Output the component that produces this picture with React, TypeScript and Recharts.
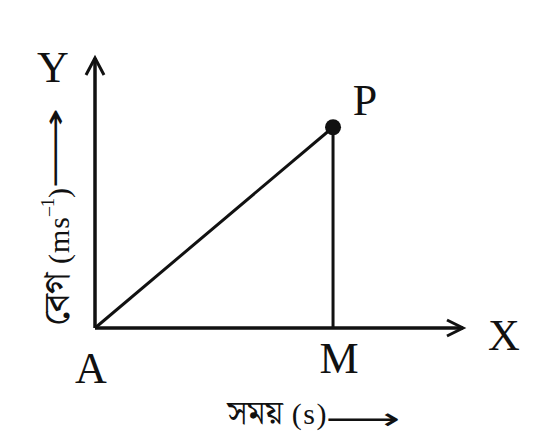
import React from 'react';
import { LineChart, Line, XAxis, YAxis, ReferenceLine, ReferenceDot } from 'recharts';

// velocity-time graph: A (origin) -> P, foot of perpendicular M
const pointNames = ['A', 'P'];
const timeValues = [0, 5];
const velocityValues = [0, 20];
const timeMax = 7.73;
const velocityMax = 26.9;
const footName = 'M';
const xAxisName = 'X';
const yAxisName = 'Y';
const xTitleWord = 'সময়';
const xTitleUnit = ' (s)';
const yTitleWord = 'বেগ';
const yTitleUnit = ' (ms';
const yTitleSup = '–1';
const titleArrow = '⟶';

const data = timeValues.map((t, i) => ({ name: pointNames[i], t, v: velocityValues[i] }));

const SERIF = "'Liberation Serif', 'Times New Roman', serif";
const BENGALI = "'Noto Serif Bengali', 'FreeSerif', 'Lohit Bengali', 'Noto Sans Bengali', serif";
const INK = '#111';

const ArrowUp = ({ cx, cy }: any) => (
  <polyline
    points={`${cx - 9},${cy + 17} ${cx},${cy} ${cx + 9},${cy + 17}`}
    fill="none"
    stroke={INK}
    strokeWidth={3}
  />
);

const ArrowRight = ({ cx, cy }: any) => (
  <polyline
    points={`${cx - 16},${cy - 8} ${cx},${cy} ${cx - 16},${cy + 8}`}
    fill="none"
    stroke={INK}
    strokeWidth={3}
  />
);

// letter placed relative to the centre of the dot it belongs to
const letter = (text: string, dx: number, dy: number, size = 44) => (props: any) => {
  const vb = props.viewBox || {};
  const cx = vb.x + (vb.width || 0) / 2;
  const cy = vb.y + (vb.height || 0) / 2;
  return (
    <text x={cx + dx} y={cy + dy} textAnchor="middle" fontFamily={SERIF} fontSize={size} fill={INK}>
      {text}
    </text>
  );
};

const XTitle = (props: any) => {
  const vb = props.viewBox || {};
  const x = vb.x + 233;
  const y = vb.y + 96;
  return (
    <g fill={INK}>
      <text x={x} y={y} textAnchor="end" fontSize={30} fontFamily={SERIF}>
        <tspan fontFamily={BENGALI} fontSize={33}>{xTitleWord}</tspan>
        <tspan fontFamily={SERIF} letterSpacing={1.5}>{xTitleUnit}</tspan>
      </text>
      <text
        x={x - 3}
        y={vb.y + 101}
        fontFamily="'DejaVu Sans'"
        fontSize={30}
        textLength={75}
        lengthAdjust="spacingAndGlyphs"
      >
        {titleArrow}
      </text>
    </g>
  );
};

const YTitle = (props: any) => {
  const vb = props.viewBox || {};
  const x = vb.x - 26;
  const y = vb.y + 130;
  const ax = vb.x - 30;
  const ay = vb.y + 131;
  return (
    <g fill={INK}>
      <text
        x={x}
        y={y}
        transform={`rotate(-90, ${x}, ${y})`}
        textAnchor="end"
        fontFamily={SERIF}
        fontSize={30}
      >
        <tspan fontFamily={BENGALI} fontSize={36}>{yTitleWord}</tspan>
        <tspan fontFamily={SERIF} letterSpacing={1}>{yTitleUnit}</tspan>
        <tspan fontFamily={SERIF} fontSize={18} dy={-15}>{yTitleSup}</tspan>
        <tspan fontFamily={SERIF} dy={15}>)</tspan>
      </text>
      <text
        x={ax}
        y={ay}
        transform={`rotate(-90, ${ax}, ${ay})`}
        fontFamily="'DejaVu Sans'"
        fontSize={30}
        textLength={81}
        lengthAdjust="spacingAndGlyphs"
      >
        {titleArrow}
      </text>
    </g>
  );
};

export default function App() {
  return (
    <div style={{ position: 'absolute', left: 0, top: 0, width: 550, height: 448, background: '#fff' }}>
      <LineChart width={550} height={448} data={data} margin={{ top: 58, left: 95, right: 87, bottom: 120 }}>
        <XAxis type="number" dataKey="t" domain={[0, timeMax]} hide />
        <YAxis type="number" dataKey="v" domain={[0, velocityMax]} hide />
        <ReferenceLine
          segment={[
            { x: 0, y: 0 },
            { x: timeMax, y: 0 },
          ]}
          stroke={INK}
          strokeWidth={3.5}
          label={{ content: XTitle }}
        />
        <ReferenceLine
          segment={[
            { x: 0, y: 0 },
            { x: 0, y: velocityMax },
          ]}
          stroke={INK}
          strokeWidth={3.5}
          label={{ content: YTitle }}
        />
        <Line
          type="linear"
          dataKey="v"
          stroke={INK}
          strokeWidth={3}
          dot={false}
          activeDot={false}
          isAnimationActive={false}
        />
        <ReferenceLine
          segment={[
            { x: timeValues[1], y: 0 },
            { x: timeValues[1], y: velocityValues[1] },
          ]}
          stroke={INK}
          strokeWidth={3}
        />
        <ReferenceDot x={timeMax} y={0} shape={ArrowRight} label={{ content: letter(xAxisName, 41, 22) }} />
        <ReferenceDot x={0} y={velocityMax} shape={ArrowUp} label={{ content: letter(yAxisName, -42, 24) }} />
        <ReferenceDot x={timeValues[0]} y={velocityValues[0]} r={0} stroke="none" label={{ content: letter(pointNames[0], -4, 55) }} />
        <ReferenceDot x={timeValues[1]} y={0} r={0} stroke="none" label={{ content: letter(footName, 6, 45) }} />
        <ReferenceDot
          x={timeValues[1]}
          y={velocityValues[1]}
          r={8}
          fill={INK}
          stroke="none"
          label={{ content: letter(pointNames[1], 32, -12) }}
        />
      </LineChart>
    </div>
  );
}
